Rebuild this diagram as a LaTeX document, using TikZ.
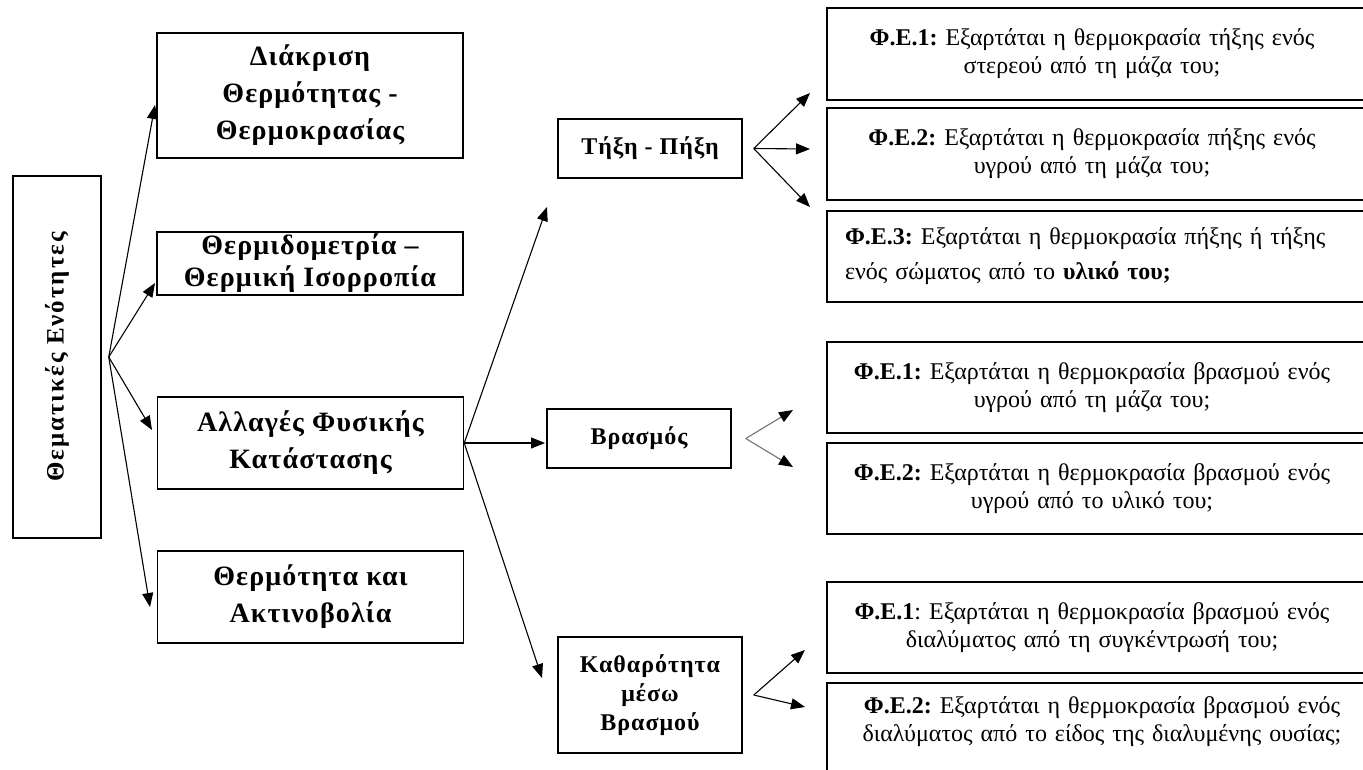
\documentclass[tikz,border=0pt]{standalone}
\usepackage{fontspec}
\setmainfont{Liberation Serif}
\usetikzlibrary{arrows.meta}
\frenchspacing
\begin{document}
\begin{tikzpicture}[x=1pt,y=-1pt,
  frame/.style={draw=black, line width=1.5pt},
  mbox/.style={frame, minimum width=306pt, inner sep=0pt, align=center,
    font=\bfseries\fontsize{28}{37}\selectfont\addfontfeatures{LetterSpace=4}},
  sbox/.style={frame, minimum width=184pt, inner sep=0pt, align=center,
    font=\bfseries\fontsize{24}{29}\selectfont\addfontfeatures{LetterSpace=4}},
  rtext/.style={text width=510pt, inner xsep=0pt, inner ysep=0pt, align=center,
    font=\fontsize{24}{28}\selectfont\frenchspacing},
  arr/.style={line width=1.1pt, -{Triangle[length=14pt,width=11pt]}},
  garr/.style={line width=1.1pt, draw=black!55, -{Triangle[length=14pt,width=11pt,color=black,fill=black]}},
]
\useasboundingbox (0,0) rectangle (1363,769);
\fill[white] (0,0) rectangle (1363,769);
\begin{scope}
\clip (0,0) rectangle (1363,769);

% left box
\node[frame, minimum width=88pt, minimum height=362pt, inner sep=0pt] (L) at (57,357) {};
\node[rotate=90, font=\bfseries\fontsize{25}{28}\selectfont\addfontfeatures{LetterSpace=8}] (Lt) at (L.center) {Θεματικές Ενότητες};

% main topics
\node[mbox, minimum height=125pt] (d1) at (310,95.5) {Διάκριση\\Θερμότητας -\\Θερμοκρασίας};
\node[mbox, minimum height=63pt, font=\bfseries\fontsize{28}{32}\selectfont\addfontfeatures{LetterSpace=4}] (d2) at (310,263.5) {Θερμιδομετρία –\\Θερμική Ισορροπία};
\node[mbox, minimum height=92pt] (d3) at (310.5,443) {Αλλαγές Φυσικής\\Κατάστασης};
\node[mbox, minimum height=92pt] (d4) at (310.5,597) {Θερμότητα και\\Ακτινοβολία};

% sub topics
\node[sbox, minimum height=59pt] (T) at (650,148.5) {Τήξη - Πήξη};
\node[sbox, minimum height=59pt] (B) at (639,438.5) {Βρασμός};
\node[sbox, minimum height=116pt] (K) at (650,695) {Καθαρότητα\\μέσω\\Βρασμού};

% right boxes
\node[rtext, minimum height=92pt] (r1) at (1092,54) {\textbf{Φ.Ε.1:} Εξαρτάται η θερμοκρασία τήξης ενός\\στερεού από τη μάζα του;};
\node[rtext, minimum height=92pt] (r2) at (1092,154) {\textbf{Φ.Ε.2:} Εξαρτάται η θερμοκρασία πήξης ενός\\υγρού από τη μάζα του;};
\node[rtext, minimum height=91pt, align=left, font=\fontsize{24}{35}\selectfont\frenchspacing] (r3) at (1100,256.5) {\textbf{Φ.Ε.3:} Εξαρτάται η θερμοκρασία πήξης ή τήξης\\ενός σώματος από το \textbf{υλικό του;}};
\node[rtext, minimum height=91pt] (r4) at (1092,387.5) {\textbf{Φ.Ε.1:} Εξαρτάται η θερμοκρασία βρασμού ενός\\υγρού από τη μάζα του;};
\node[rtext, minimum height=91pt] (r5) at (1092,488.5) {\textbf{Φ.Ε.2:} Εξαρτάται η θερμοκρασία βρασμού ενός\\υγρού από το υλικό του;};
\node[rtext, minimum height=91pt] (r6) at (1092,627.5) {\textbf{Φ.Ε.1}: Εξαρτάται η θερμοκρασία βρασμού ενός\\διαλύματος από τη συγκέντρωσή του;};
\node[rtext, minimum height=78pt] (r7) at (1102,722) {\textbf{Φ.Ε.2:} Εξαρτάται η θερμοκρασία βρασμού ενός\\διαλύματος από το είδος της διαλυμένης ουσίας;};

\foreach \n in {r1,r2,r3,r4,r5,r6}
  \draw[frame] (827,0 |- \n.north) rectangle (1400,0 |- \n.south);
\draw[frame] (827,0 |- r7.north) rectangle (1400,800);

% fan points and arrow ends
\coordinate (o1) at ([xshift=7pt]L.east);
\coordinate (a1) at (155,105);
\coordinate (a2) at (155,283);
\coordinate (a3) at (152,430);
\coordinate (a4) at (150,607);
\coordinate (b1) at (547,207);
\coordinate (b2) at (545,443);
\coordinate (b3) at (542,678);
\coordinate (c1) at (810,93);
\coordinate (c2) at (810,149);
\coordinate (c3) at (810,207);
\coordinate (e1) at (793,410);
\coordinate (e2) at (793,467);
\coordinate (f1) at (805,650);
\coordinate (f2) at (805,707);

\foreach \t in {a1,a2,a3,a4} \draw[arr] (o1) -- (\t);
\foreach \t in {b1,b2,b3} \draw[arr] (d3.east) -- (\t);
\foreach \t in {c1,c2,c3} \draw[arr] ([xshift=11pt]T.east) -- (\t);
\foreach \t in {e1,e2} \draw[garr] ([xshift=14pt]B.east) -- (\t);
\foreach \t in {f1,f2} \draw[arr] ([xshift=11pt]K.east) -- (\t);
\end{scope}
\end{tikzpicture}
\end{document}
